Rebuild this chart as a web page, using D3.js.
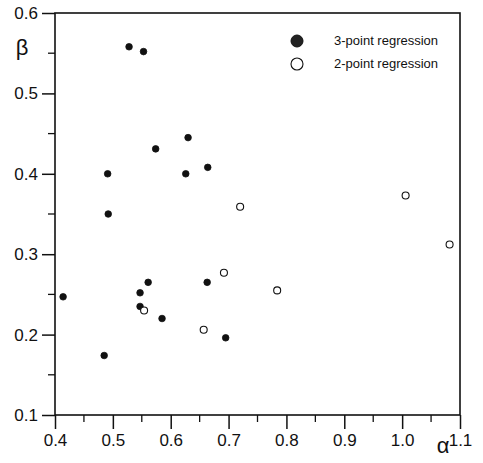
<!DOCTYPE html>
<html>
<head>
<meta charset="utf-8">
<script src="https://cdn.jsdelivr.net/npm/d3@7"></script>
<style>
  body { margin: 0; background: #fff; }
  svg { display: block; }
  text { font-family: "Liberation Sans", Arial, sans-serif; fill: #111; }
  .ax text { font-size: 17px; }
</style>
</head>
<body>
<svg width="483" height="463"></svg>
<script>
// 3-point regression (filled)
var threeAlpha = [0.528, 0.553, 0.491, 0.492, 0.414, 0.485, 0.574, 0.630, 0.626, 0.664, 0.561, 0.547, 0.547, 0.585, 0.663, 0.695];
var threeBeta  = [0.558, 0.552, 0.400, 0.350, 0.247, 0.174, 0.431, 0.445, 0.400, 0.408, 0.265, 0.252, 0.235, 0.220, 0.265, 0.196];
// 2-point regression (open)
var twoAlpha = [0.554, 0.657, 0.692, 0.720, 0.784, 1.006, 1.082];
var twoBeta  = [0.230, 0.206, 0.277, 0.359, 0.255, 0.373, 0.312];

var xTicks = [0.4, 0.5, 0.6, 0.7, 0.8, 0.9, 1.0, 1.1];
var yTicks = [0.1, 0.2, 0.3, 0.4, 0.5, 0.6];
var legendLabels = ["3-point regression", "2-point regression"];

var svg = d3.select("svg");
var m = {left: 55, right: 23, top: 13, bottom: 48};
var W = 483, H = 463;

var x = d3.scaleLinear().domain([0.4, 1.1]).range([m.left, W - m.right]);
var y = d3.scaleLinear().domain([0.1, 0.6]).range([H - m.bottom, m.top]);

// frame
svg.append("rect")
  .attr("x", x(0.4)).attr("y", y(0.6))
  .attr("width", x(1.1) - x(0.4)).attr("height", y(0.1) - y(0.6))
  .attr("fill", "none").attr("stroke", "#111").attr("stroke-width", 1.6);

// minor ticks
var xMinor = d3.range(0.45, 1.1, 0.1);
var yMinor = d3.range(0.15, 0.6, 0.1);

svg.append("g").selectAll("line").data(xMinor).join("line")
  .attr("x1", d => x(d)).attr("x2", d => x(d))
  .attr("y1", y(0.1)).attr("y2", y(0.1) + 7)
  .attr("stroke", "#111").attr("stroke-width", 1.3);
svg.append("g").selectAll("line").data(yMinor).join("line")
  .attr("x1", x(0.4) - 7).attr("x2", x(0.4))
  .attr("y1", d => y(d)).attr("y2", d => y(d))
  .attr("stroke", "#111").attr("stroke-width", 1.3);

// axes
var xAxis = svg.append("g").attr("class", "ax")
  .attr("transform", "translate(0," + y(0.1) + ")")
  .call(d3.axisBottom(x).tickValues(xTicks).tickFormat(d3.format(".1f")).tickSize(14).tickPadding(5));
var yAxis = svg.append("g").attr("class", "ax")
  .attr("transform", "translate(" + x(0.4) + ",0)")
  .call(d3.axisLeft(y).tickValues(yTicks).tickFormat(d3.format(".1f")).tickSize(13).tickPadding(4));

[xAxis, yAxis].forEach(function(g) {
  g.select(".domain").remove();
  g.selectAll("line").attr("stroke", "#111").attr("stroke-width", 1.5);
  g.selectAll("text").attr("fill", "#111");
});

// axis titles
svg.append("text").attr("x", 22).attr("y", 55).attr("text-anchor", "middle")
  .style("font-size", "22px").text("β");
svg.append("text").attr("x", 443).attr("y", 453).attr("text-anchor", "middle")
  .style("font-size", "22px").text("α");

// points
var threeData = threeAlpha.map((a, i) => ({a: a, b: threeBeta[i]}));
var twoData = twoAlpha.map((a, i) => ({a: a, b: twoBeta[i]}));

svg.append("g").selectAll("circle").data(threeData).join("circle")
  .attr("cx", d => x(d.a)).attr("cy", d => y(d.b)).attr("r", 3.3)
  .attr("fill", "#111").attr("stroke", "#111").attr("stroke-width", 0.8);
svg.append("g").selectAll("circle").data(twoData).join("circle")
  .attr("cx", d => x(d.a)).attr("cy", d => y(d.b)).attr("r", 3.5)
  .attr("fill", "#fff").attr("stroke", "#111").attr("stroke-width", 1.1);

// legend
var leg = svg.append("g");
leg.append("circle").attr("cx", 297).attr("cy", 41).attr("r", 6)
  .attr("fill", "#222").attr("stroke", "#111");
leg.append("circle").attr("cx", 297).attr("cy", 64).attr("r", 6)
  .attr("fill", "#fff").attr("stroke", "#111").attr("stroke-width", 1.1);
leg.selectAll("text").data(legendLabels).join("text")
  .attr("x", 334).attr("y", (d, i) => 45 + i * 23)
  .style("font-size", "13px").text(d => d);
</script>
</body>
</html>
